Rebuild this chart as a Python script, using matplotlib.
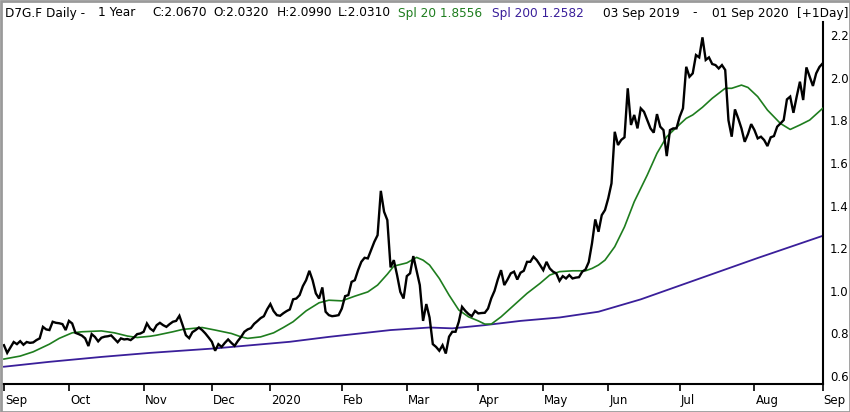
import numpy as np
import pandas as pd
import matplotlib
matplotlib.use("Agg")
import matplotlib.pyplot as plt
import matplotlib.transforms as mtransforms
from matplotlib.patches import Rectangle

plt.rcParams['font.family'] = ['DejaVu Sans']

# ---------------- data ----------------
holidays = ["2019-12-24", "2019-12-25", "2019-12-26", "2019-12-31",
            "2020-01-01", "2020-04-10", "2020-04-13", "2020-05-01"]
dates = pd.bdate_range("2019-09-03", "2020-09-01")
dates = dates[~dates.isin(pd.to_datetime(holidays))]

close = [
    0.745, 0.709, 0.735, 0.760, 0.750, 0.764, 0.747, 0.760, 0.756, 0.758,
    0.769, 0.777, 0.831, 0.819, 0.816, 0.855, 0.850, 0.848, 0.844, 0.816,
    0.859, 0.847, 0.803, 0.797, 0.790, 0.777, 0.741, 0.797, 0.784, 0.763,
    0.780, 0.785, 0.787, 0.791, 0.775, 0.759, 0.777, 0.772, 0.774, 0.769,
    0.781, 0.797, 0.800, 0.808, 0.847, 0.823, 0.812, 0.839, 0.850, 0.839,
    0.831, 0.844, 0.855, 0.859, 0.883, 0.839, 0.792, 0.778, 0.806, 0.816,
    0.828, 0.816, 0.800, 0.781, 0.761, 0.719, 0.750, 0.737, 0.756, 0.772,
    0.756, 0.742, 0.765, 0.784, 0.808, 0.819, 0.825, 0.845, 0.858, 0.872,
    0.881, 0.913, 0.938, 0.905, 0.886, 0.883, 0.895, 0.905, 0.913, 0.960,
    0.964, 0.980, 1.022, 1.050, 1.094, 1.050, 0.988, 0.964, 1.016, 0.902,
    0.886, 0.881, 0.883, 0.886, 0.917, 0.975, 0.980, 1.042, 1.050, 1.097,
    1.136, 1.155, 1.152, 1.191, 1.230, 1.261, 1.469, 1.371, 1.332, 1.110,
    1.144, 1.074, 0.995, 0.964, 1.069, 1.082, 1.163, 1.094, 1.027, 0.859,
    0.938, 0.875, 0.750, 0.737, 0.719, 0.745, 0.706, 0.785, 0.808, 0.808,
    0.855, 0.925, 0.906, 0.891, 0.881, 0.906, 0.894, 0.896, 0.897, 0.917,
    0.965, 1.000, 1.053, 1.097, 1.027, 1.053, 1.082, 1.090, 1.053, 1.085,
    1.094, 1.136, 1.136, 1.160, 1.144, 1.121, 1.097, 1.136, 1.105, 1.090,
    1.082, 1.047, 1.069, 1.058, 1.074, 1.058, 1.062, 1.064, 1.090, 1.100,
    1.135, 1.223, 1.335, 1.277, 1.355, 1.379, 1.434, 1.504, 1.746, 1.684,
    1.708, 1.720, 1.950, 1.778, 1.825, 1.762, 1.856, 1.840, 1.801, 1.762,
    1.742, 1.829, 1.770, 1.754, 1.632, 1.754, 1.762, 1.762, 1.817, 1.856,
    2.051, 2.004, 2.020, 2.106, 2.095, 2.189, 2.083, 2.095, 2.064, 2.059,
    2.043, 2.059, 2.036, 1.800, 1.723, 1.851, 1.809, 1.762, 1.699, 1.735,
    1.782, 1.754, 1.715, 1.723, 1.707, 1.679, 1.720, 1.726, 1.770, 1.785,
    1.801, 1.898, 1.911, 1.835, 1.911, 1.981, 1.895, 2.048, 2.004, 1.961,
    2.020, 2.050, 2.067,
]

# 20-day spline: trading-day index, value
spl20_idx = [0, 5, 9, 14, 17, 21, 24, 30, 34, 38, 41, 45, 47, 52, 55, 61, 65,
             70, 73, 75, 79, 83, 86, 89, 93, 97, 100, 104, 108, 112, 115, 118,
             120, 124, 127, 129, 131, 134, 137, 140, 143, 146, 148, 150, 153,
             157, 161, 165, 168, 171, 175, 179, 181, 183, 185, 188, 191, 194,
             198, 201, 204, 207, 210, 212, 215, 218, 222, 224, 227, 229, 232,
             235, 239, 242, 245, 248, 252]
spl20_val = [0.680, 0.694, 0.714, 0.750, 0.777, 0.803, 0.808, 0.812, 0.803,
             0.788, 0.781, 0.787, 0.792, 0.808, 0.819, 0.828, 0.816, 0.800,
             0.784, 0.777, 0.784, 0.803, 0.828, 0.855, 0.906, 0.944, 0.956,
             0.953, 0.975, 0.995, 1.027, 1.078, 1.116, 1.131, 1.157, 1.144,
             1.121, 1.058, 0.980, 0.910, 0.878, 0.859, 0.844, 0.844, 0.878,
             0.933, 0.988, 1.035, 1.074, 1.090, 1.094, 1.094, 1.105, 1.121,
             1.144, 1.207, 1.300, 1.418, 1.543, 1.645, 1.723, 1.767, 1.809,
             1.825, 1.861, 1.903, 1.950, 1.950, 1.965, 1.954, 1.911, 1.848,
             1.785, 1.757, 1.778, 1.801, 1.856]

# 200-day spline
spl200_idx = [0, 14, 30, 45, 65, 88, 100, 119, 131, 138, 148, 159, 171, 183,
              196, 214, 232, 252]
spl200_val = [0.644, 0.667, 0.690, 0.709, 0.730, 0.761, 0.784, 0.816, 0.828,
              0.824, 0.839, 0.859, 0.875, 0.902, 0.960, 1.057, 1.154, 1.258]

yticks = [0.6, 0.8, 1.0, 1.2, 1.4, 1.6, 1.8, 2.0, 2.2]

# ---------------- figure ----------------
W, H = 850, 412
fig = plt.figure(figsize=(W / 100, H / 100), dpi=100)
fig.patch.set_facecolor("white")

ax_left, ax_right, ax_top, ax_bottom = 2, 823, 22, 384
ax = fig.add_axes([ax_left / W, (H - ax_bottom) / H,
                   (ax_right - ax_left) / W, (ax_bottom - ax_top) / H])

x = np.arange(len(close))
ax.plot(spl200_idx, spl200_val, color="#3a1f9a", lw=1.3, zorder=2)
ax.plot(spl20_idx, spl20_val, color="#1e7d1e", lw=1.2, zorder=3)
ax.plot(x, close, color="black", lw=1.7, zorder=4, solid_joinstyle="miter")

ax.set_xlim(-0.6, 252.1)
ax.set_ylim(0.563, 2.261)

for s in ["top", "left"]:
    ax.spines[s].set_visible(False)
for s in ["right", "bottom"]:
    ax.spines[s].set_linewidth(1.5)
    ax.spines[s].set_color("black")

# y axis on right
ax.yaxis.tick_right()
ax.set_yticks(yticks)
ax.set_yticklabels([f"{v:.1f}" for v in yticks])
ax.tick_params(axis="y", length=0, pad=5, labelsize=8.5, colors="black")

# month ticks: first trading day of each month
months = dates.to_period("M")
first_idx = [0] + [i for i in range(1, len(dates)) if months[i] != months[i - 1]]
labels = []
for i in first_idx:
    d = dates[i]
    labels.append(str(d.year) if d.month == 1 else d.strftime("%b"))
ax.set_xticks(first_idx)
ax.set_xticklabels([])
ax.tick_params(axis="x", direction="out", length=5, width=1.2, colors="black")

trans = mtransforms.blended_transform_factory(ax.transData, ax.transAxes)
off = mtransforms.ScaledTranslation(1 / 100, -10 / 100, fig.dpi_scale_trans)
for i, lab in zip(first_idx, labels):
    ax.text(i, 0, lab, transform=trans + off, ha="left", va="top",
            fontsize=8.5, color="black", clip_on=False)

# header
hy = 1 - 13 / H
def htext(px, s, color="black"):
    fig.text(px / W, hy, s, ha="left", va="center", fontsize=8.7, color=color)

htext(5, "D7G.F Daily -")
htext(98, "1 Year")
htext(152, "C:2.0670")
htext(213, "O:2.0320")
htext(277, "H:2.0990")
htext(338, "L:2.0310")
htext(398, "Spl 20 1.8556", color="#1e7d1e")
htext(492, "Spl 200 1.2582", color="#3a1f9a")
htext(603, "03 Sep 2019")
htext(692, "-")
htext(712, "01 Sep 2020")
htext(797, "[+1Day]")

# outer frame
fig.patches.append(Rectangle((0.5 / W, 0.5 / H), 1 - 1 / W, 1 - 1 / H,
                             transform=fig.transFigure, fill=False,
                             edgecolor="#9a9a9a", lw=2))

fig.savefig("out.png", dpi=100, facecolor="white")
